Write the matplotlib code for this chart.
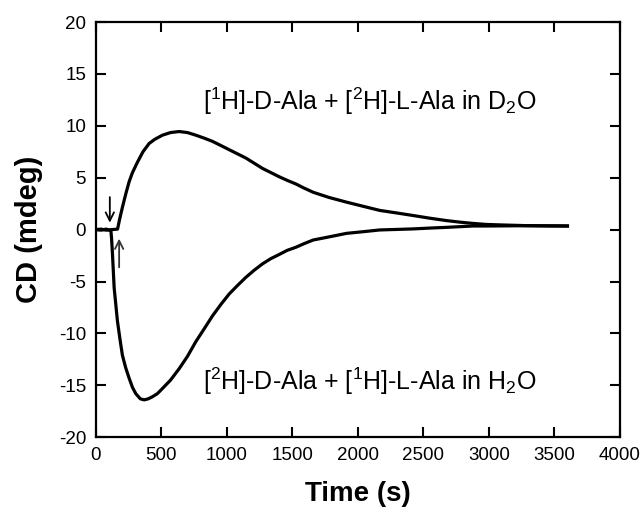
import matplotlib
matplotlib.use("Agg")
import matplotlib.pyplot as plt

plt.rcParams['font.family'] = ['Liberation Sans', 'DejaVu Sans']
plt.rcParams['mathtext.fontset'] = 'custom'
plt.rcParams['mathtext.rm'] = 'Liberation Sans'
plt.rcParams['mathtext.it'] = 'Liberation Sans:italic'
plt.rcParams['mathtext.bf'] = 'Liberation Sans:bold'
plt.rcParams['axes.unicode_minus'] = False

# D2O trace: [1H]-D-Ala + [2H]-L-Ala in D2O
t_d2o = [0, 40, 80, 120, 166, 180, 204, 230, 254, 280, 318, 360, 407, 450, 509, 570,
         636, 700, 763, 830, 891, 955, 1018, 1145, 1272, 1399, 1460, 1527, 1590, 1659,
         1780, 1913, 2040, 2168, 2300, 2422, 2550, 2677, 2780, 2878, 2980, 3100, 3300,
         3450, 3600]
cd_d2o = [0.0, 0.05, -0.05, 0.0, 0.05, 0.9, 2.2, 3.5, 4.6, 5.5, 6.5, 7.5, 8.3, 8.7,
          9.1, 9.35, 9.45, 9.35, 9.1, 8.8, 8.5, 8.1, 7.7, 6.9, 5.9, 5.1, 4.75, 4.4, 4.0,
          3.6, 3.1, 2.65, 2.25, 1.85, 1.6, 1.36, 1.1, 0.87, 0.72, 0.6, 0.5, 0.45, 0.38,
          0.36, 0.35]

# H2O trace: [2H]-D-Ala + [1H]-L-Ala in H2O
t_h2o = [0, 40, 80, 115, 120, 127, 140, 165, 185, 203, 228, 254, 280, 305, 340, 369,
         400, 432, 470, 509, 570, 636, 700, 763, 830, 891, 955, 1018, 1080, 1145, 1210,
         1272, 1335, 1399, 1460, 1527, 1590, 1659, 1780, 1913, 2040, 2168, 2300, 2422,
         2550, 2677, 2878, 3000, 3300, 3600]
cd_h2o = [0.0, -0.05, 0.05, -0.1, -0.8, -2.3, -5.6, -8.8, -10.6, -12.1, -13.3, -14.3,
          -15.2, -15.8, -16.3, -16.4, -16.3, -16.1, -15.8, -15.3, -14.5, -13.4, -12.2,
          -10.8, -9.5, -8.3, -7.2, -6.2, -5.4, -4.6, -3.9, -3.3, -2.8, -2.4, -2.0, -1.7,
          -1.35, -1.0, -0.7, -0.36, -0.2, -0.03, 0.02, 0.07, 0.15, 0.22, 0.35, 0.35,
          0.38, 0.35]

xticks = [0, 500, 1000, 1500, 2000, 2500, 3000, 3500, 4000]
yticks = [-20, -15, -10, -5, 0, 5, 10, 15, 20]

fig = plt.figure(figsize=(6.43, 5.12), dpi=100)
ax = fig.add_axes([0.149, 0.146, 0.815, 0.811])

ax.plot(t_d2o, cd_d2o, color='black', lw=2.3, solid_joinstyle='round')
ax.plot(t_h2o, cd_h2o, color='black', lw=2.3, solid_joinstyle='round')

ax.set_xlim(0, 4000)
ax.set_ylim(-20, 20)
ax.set_xticks(xticks)
ax.set_yticks(yticks)
ax.set_xticklabels([str(v) for v in xticks])
ax.set_yticklabels([str(v) for v in yticks])
ax.tick_params(direction='in', length=7, width=1.5, top=True, right=True,
               labelsize=13.5, pad=7)
for s in ax.spines.values():
    s.set_linewidth(1.6)

ax.set_xlabel('Time (s)', fontsize=20, fontweight='bold', labelpad=12)
ax.set_ylabel('CD (mdeg)', fontsize=21, fontweight='bold', labelpad=11)

ax.text(2090, 12.4, r'[$^1$H]-D-Ala + [$^2$H]-L-Ala in D$_2$O', fontsize=18,
        ha='center', va='center')
ax.text(2090, -14.6, r'[$^2$H]-D-Ala + [$^1$H]-L-Ala in H$_2$O', fontsize=18,
        ha='center', va='center')

ax.annotate('', xy=(107, 0.4), xytext=(107, 3.4),
            arrowprops=dict(arrowstyle='->,head_length=0.6,head_width=0.3',
                            color='black', lw=1.3))
ax.annotate('', xy=(178, -0.6), xytext=(178, -3.9),
            arrowprops=dict(arrowstyle='->,head_length=0.6,head_width=0.3',
                            color='#333333', lw=1.3))

fig.savefig('out.png', dpi=100)
